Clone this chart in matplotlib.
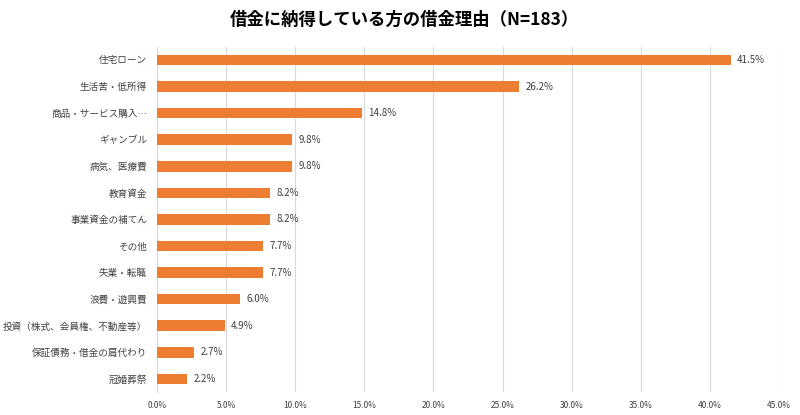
import matplotlib.pyplot as plt
from matplotlib.ticker import FuncFormatter

plt.rcParams['font.family'] = ['Noto Sans CJK JP', 'DejaVu Sans']

categories = ['住宅ローン', '生活苦・低所得', '商品・サービス購入…', 'ギャンブル', '病気、医療費',
              '教育資金', '事業資金の補てん', 'その他', '失業・転職', '浪費・遊興費',
              '投資（株式、会員権、不動産等）', '保証債務・借金の肩代わり', '冠婚葬祭']
values = [41.5, 26.2, 14.8, 9.8, 9.8, 8.2, 8.2, 7.7, 7.7, 6.0, 4.9, 2.7, 2.2]
xticks = [0, 5, 10, 15, 20, 25, 30, 35, 40, 45]

fig = plt.figure(figsize=(8, 4.15), dpi=100)
ax = fig.add_axes([0.196, 0.055, 0.778, 0.8325])

y = list(range(len(categories)))
ax.barh(y, values, height=0.4, color='#ED7D31', zorder=3)
for yi, v in zip(y, values):
    ax.text(v + 0.45, yi, f'{v:.1f}%', va='center', ha='left', fontsize=7, color='#404040')

ax.set_ylim(len(categories) - 0.5, -0.5)
ax.set_yticks(y)
ax.set_yticklabels(categories, fontsize=6.9, color='#404040')
ax.set_xlim(0, 45)
ax.set_xticks(xticks)
ax.xaxis.set_major_formatter(FuncFormatter(lambda v, p: f'{v:.1f}%'))
ax.tick_params(axis='x', labelsize=6, colors='#404040', length=0, pad=6)
ax.tick_params(axis='y', length=0, pad=7)
ax.grid(axis='x', color='#D9D9D9', linewidth=0.8, zorder=0)
for s in ['top', 'right', 'bottom']:
    ax.spines[s].set_visible(False)
ax.spines['left'].set_color('#D9D9D9')

fig.suptitle('借金に納得している方の借金理由（N=183）', fontsize=12.5, fontweight='bold',
             y=0.952, x=0.505, va='center', color='#000000')

fig.savefig('out.png', dpi=100)
